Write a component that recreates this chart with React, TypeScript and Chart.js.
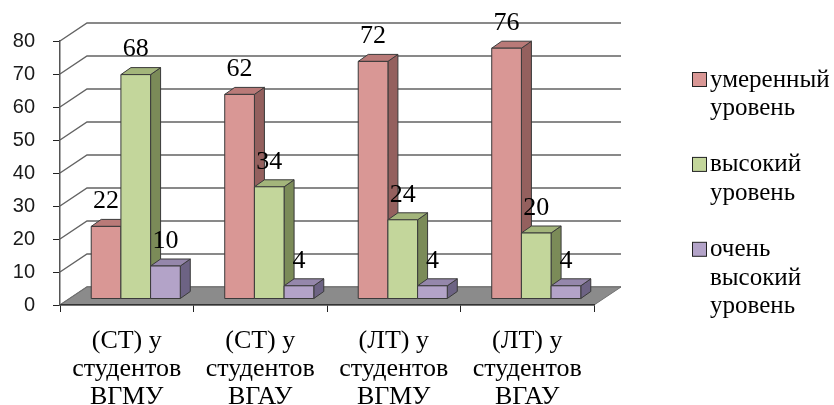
import React, { useEffect, useRef } from 'react';
import { Chart, registerables } from 'chart.js';

Chart.register(...registerables);

// Category labels, already broken into lines
const categories: string[][] = [
  ['(СТ) у', 'студентов', 'ВГМУ'],
  ['(СТ) у', 'студентов', 'ВГАУ'],
  ['(ЛТ) у', 'студентов', 'ВГМУ'],
  ['(ЛТ) у', 'студентов', 'ВГАУ'],
];

const seriesNames = ['умеренный уровень', 'высокий уровень', 'очень высокий уровень'];

const moderate = [22, 62, 72, 76];
const high = [68, 34, 24, 20];
const veryHigh = [10, 4, 4, 4];

const yTicks = [0, 10, 20, 30, 40, 50, 60, 70, 80];

// Shading for the three visible faces of each column
const faceColors = [
  { front: '#d99795', top: '#b97a78', side: '#94605e' },
  { front: '#c3d69b', top: '#a3b57b', side: '#7b8b58' },
  { front: '#b3a3c8', top: '#9587ab', side: '#6d6384' },
];

// Depth of the floor / side wall in pixels
const WALL_DX = 27;
const WALL_DY = -18;
// Front faces of the columns sit this far into the floor
const BAR_SHIFT = 1 / 3;
// Depth of each column
const BAR_DX = 10;
const BAR_DY = -7;

const SERIF = "'Liberation Serif'";
const SANS = "'Liberation Sans'";
const TEXT_COLOR = '#000';

function poly(ctx: CanvasRenderingContext2D, pts: number[][], fill: string) {
  ctx.beginPath();
  ctx.moveTo(pts[0][0], pts[0][1]);
  for (let i = 1; i < pts.length; i++) ctx.lineTo(pts[i][0], pts[i][1]);
  ctx.closePath();
  ctx.fillStyle = fill;
  ctx.fill();
  ctx.stroke();
}

function wrapWords(ctx: CanvasRenderingContext2D, text: string, maxW: number): string[] {
  const words = text.split(' ');
  const lines: string[] = [];
  let cur = '';
  for (const w of words) {
    const test = cur ? cur + ' ' + w : w;
    if (cur && ctx.measureText(test).width > maxW) {
      lines.push(cur);
      cur = w;
    } else {
      cur = test;
    }
  }
  if (cur) lines.push(cur);
  return lines;
}

const columns3d = {
  id: 'columns3d',
  beforeDraw(chart: any) {
    const { ctx, chartArea } = chart;
    const { left, right, bottom } = chartArea;
    const yScale = chart.scales.y;
    ctx.save();
    // back wall grid lines, with their diagonal run along the side wall
    ctx.strokeStyle = '#636363';
    ctx.lineWidth = 1.4;
    for (const v of yTicks) {
      const py = yScale.getPixelForValue(v);
      ctx.beginPath();
      ctx.moveTo(left, py);
      ctx.lineTo(left + WALL_DX, py + WALL_DY);
      ctx.lineTo(right + WALL_DX, py + WALL_DY);
      ctx.stroke();
    }
    // floor
    ctx.strokeStyle = '#707070';
    ctx.lineWidth = 1;
    poly(
      ctx,
      [
        [left, bottom],
        [right, bottom],
        [right + WALL_DX, bottom + WALL_DY],
        [left + WALL_DX, bottom + WALL_DY],
      ],
      '#8b8b8b'
    );
    ctx.restore();
  },
  beforeDatasetsDraw(chart: any) {
    const { ctx } = chart;
    const metas = chart.data.datasets.map((_: any, i: number) => chart.getDatasetMeta(i));
    const sx = WALL_DX * BAR_SHIFT;
    const sy = WALL_DY * BAR_SHIFT;
    ctx.save();
    ctx.lineWidth = 1;
    ctx.strokeStyle = '#3a3a3a';
    ctx.lineJoin = 'round';
    const n = chart.data.labels.length;
    for (let i = 0; i < n; i++) {
      for (let d = 0; d < metas.length; d++) {
        const el = metas[d].data[i];
        const { x, y, base, width } = el.getProps(['x', 'y', 'base', 'width'], true);
        const l = x - width / 2 + sx;
        const r = x + width / 2 + sx;
        const t = y + sy;
        const b = base + sy;
        const c = faceColors[d];
        poly(ctx, [[r, b], [r + BAR_DX, b + BAR_DY], [r + BAR_DX, t + BAR_DY], [r, t]], c.side);
        poly(ctx, [[l, t], [r, t], [r + BAR_DX, t + BAR_DY], [l + BAR_DX, t + BAR_DY]], c.top);
        poly(ctx, [[l, b], [r, b], [r, t], [l, t]], c.front);
      }
    }
    // value labels above the columns
    ctx.font = `26px ${SERIF}`;
    ctx.fillStyle = TEXT_COLOR;
    ctx.textAlign = 'center';
    ctx.textBaseline = 'middle';
    for (let d = 0; d < metas.length; d++) {
      const values = chart.data.datasets[d].data;
      for (let i = 0; i < n; i++) {
        const el = metas[d].data[i];
        const { x, y } = el.getProps(['x', 'y'], true);
        ctx.fillText(String(values[i]), x + sx, y + sy - 25);
      }
    }
    ctx.restore();
    return false;
  },
  afterDraw(chart: any) {
    const { ctx } = chart;
    const keyX = 692;
    const textX = 710;
    const lineH = 28.3;
    let lineY = 80;
    ctx.save();
    ctx.font = `25px ${SERIF}`;
    ctx.textAlign = 'left';
    ctx.textBaseline = 'middle';
    chart.data.datasets.forEach((ds: any) => {
      ctx.fillStyle = ds.backgroundColor;
      ctx.strokeStyle = '#222';
      ctx.lineWidth = 1;
      ctx.fillRect(keyX + 0.5, lineY - 7.5, 14, 14);
      ctx.strokeRect(keyX + 0.5, lineY - 7.5, 14, 14);
      const lines = wrapWords(ctx, ds.label, chart.width - textX);
      ctx.fillStyle = TEXT_COLOR;
      lines.forEach((ln, k) => ctx.fillText(ln, textX, lineY + k * lineH));
      lineY += (lines.length + 1) * lineH;
    });
    ctx.restore();
  },
};

export default function App() {
  const canvasRef = useRef<HTMLCanvasElement | null>(null);

  useEffect(() => {
    let chart: Chart | null = null;
    let cancelled = false;
    const seriesData = [moderate, high, veryHigh];

    const build = () => {
      if (cancelled || !canvasRef.current) return;
      chart = new Chart(canvasRef.current, {
        type: 'bar',
        data: {
          labels: categories,
          datasets: seriesData.map((data, d) => ({
            label: seriesNames[d],
            data,
            backgroundColor: faceColors[d].front,
            categoryPercentage: 0.667,
            barPercentage: 1,
          })),
        },
        options: {
          animation: false,
          responsive: true,
          maintainAspectRatio: false,
          devicePixelRatio: 1,
          layout: { padding: { top: 41, right: 240, left: 0, bottom: 0 } },
          plugins: {
            legend: { display: false },
            tooltip: { enabled: false },
          },
          scales: {
            x: {
              grid: { drawOnChartArea: false, offset: true, tickLength: 7, color: '#222' },
              border: { display: true, color: '#333', width: 1.5 },
              ticks: {
                autoSkip: false,
                maxRotation: 0,
                minRotation: 0,
                padding: 15,
                color: TEXT_COLOR,
                font: { family: SERIF, size: 26, lineHeight: 1.08 },
              },
              afterFit: (s: any) => {
                s.height = 100;
              },
            },
            y: {
              min: 0,
              max: 80,
              ticks: {
                stepSize: 10,
                padding: 18,
                color: '#1a1a1a',
                font: { family: SANS, size: 20 },
              },
              grid: { drawOnChartArea: false, tickLength: 7, color: '#222' },
              border: { display: true, color: '#555', width: 1.5 },
              afterFit: (s: any) => {
                s.width = 60;
              },
            },
          },
        },
        plugins: [columns3d],
      });
    };

    const fonts = (document as any).fonts;
    if (fonts && fonts.load) {
      Promise.all([
        fonts.load(`26px ${SERIF}`, 'умеренный 0123'),
        fonts.load(`20px ${SANS}`, '0123456789'),
      ])
        .catch(() => undefined)
        .then(build);
    } else {
      build();
    }

    return () => {
      cancelled = true;
      if (chart) chart.destroy();
    };
  }, []);

  return (
    <div style={{ position: 'absolute', left: 0, top: 0, width: 834, height: 405, background: '#fff' }}>
      <canvas ref={canvasRef} />
    </div>
  );
}
